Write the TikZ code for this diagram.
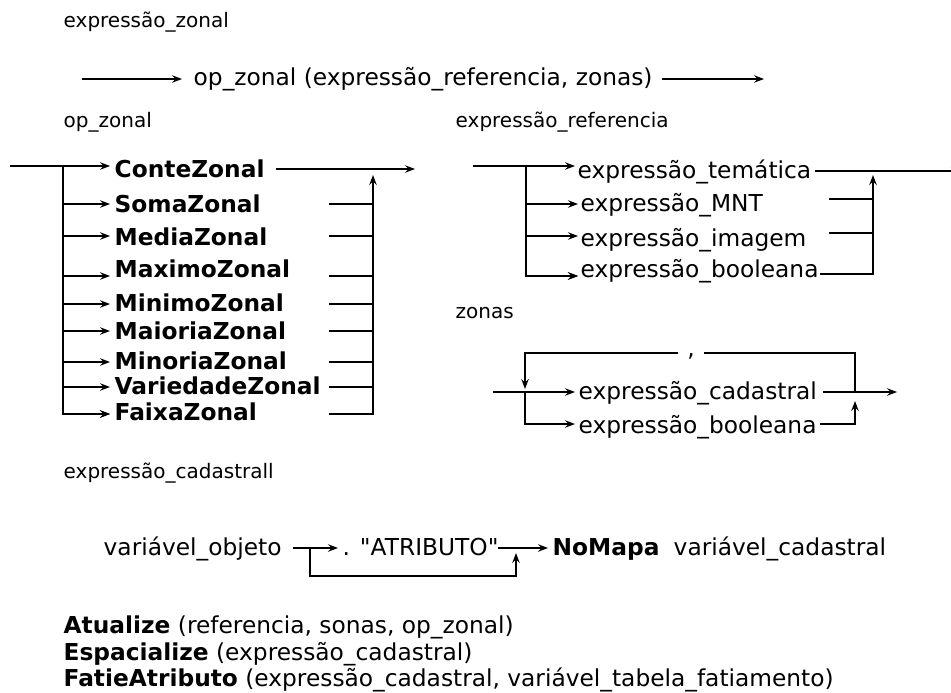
\documentclass[tikz,border=0pt]{standalone}
\usepackage{fontspec}
\setmainfont{DejaVu Sans}[Ligatures=TeXOff]
\usetikzlibrary{arrows.meta}
\newcommand{\fmain}{\fontsize{23.3}{27}\selectfont}
\newcommand{\flab}{\fontsize{20}{23}\selectfont}
\begin{document}
\begin{tikzpicture}[x=1pt,y=-1pt,
  line width=1.4pt,
  lbl/.style={inner sep=0pt,anchor=base west,font=\flab},
  txt/.style={inner sep=0pt,anchor=base west,font=\fmain},
  btxt/.style={inner sep=0pt,anchor=base west,font=\fmain\bfseries},
  arr/.style={-{Stealth[length=10pt,width=7.5pt,inset=3.5pt]}},
]
\useasboundingbox (0,0) rectangle (951,693);

% ---------- expressão_zonal
\node[lbl] (lz) at (63,28) {expressão\_zonal};
\coordinate (a0) at (82,79);
\coordinate (a1) at (182,79);
\node[txt] (opz) at (193,85) {op\_zonal (expressão\_referencia, zonas)};
\coordinate (a2) at (662,79);
\coordinate (a3) at (764,79);
\draw[arr] (a0) -- (a1);
\draw[arr] (a2) -- (a3);

% ---------- op_zonal
\node[lbl] (lop) at (63,128) {op\_zonal};
\coordinate (e0) at (10,166);
\coordinate (j0) at (63,166);
\coordinate (conte-in) at (110,166);
\node[btxt] (conte) at (114,177) {ConteZonal};
\coordinate (conte-out) at (276,169);
\coordinate (conte-end) at (415,169);
\coordinate (up0) at (373,175);
\draw (e0) -- (j0);
\draw[arr] (j0) -- (conte-in);
\draw[arr] (conte-out) -- (conte-end);
\foreach \n/\t/\ay/\ty in {soma/SomaZonal/204/212, media/MediaZonal/236/245,
  maximo/MaximoZonal/276/277, minimo/MinimoZonal/304/311,
  maioria/MaioriaZonal/331/339, minoria/MinoriaZonal/362/369,
  variedade/VariedadeZonal/387/394, faixa/FaixaZonal/414/420} {
  \node[btxt] (\n) at (114,\ty) {\t};
  \coordinate (\n-l) at (63,\ay);
  \coordinate (\n-in) at (110,\ay);
  \coordinate (\n-out) at (329,\ay);
  \coordinate (\n-r) at (373,\ay);
  \draw[arr] (\n-l) -- (\n-in);
  \draw (\n-out) -- (\n-r);
}
\draw[arr] (j0) -- (faixa-l) -- (faixa-in);
\draw[arr] (faixa-out) -- (faixa-r) -- (up0);

% ---------- expressão_referencia
\node[lbl] (lref) at (455,128) {expressão\_referencia};
\coordinate (r0) at (473,166);
\coordinate (rj) at (526,166);
\coordinate (tem-in) at (575,166);
\node[txt] (tem) at (577,178) {expressão\_temática};
\coordinate (tem-out) at (815,171);
\coordinate (tem-end) at (961,171);
\coordinate (rup) at (873,175);
\draw[arr] (r0) -- (rj) -- (tem-in);
\draw[arr] (tem-out) -- (tem-end);
\foreach \n/\t/\ay/\ty/\ry/\ox in {mnt/expressão\_MNT/204/211/199/829,
  img/expressão\_imagem/236/246/233/829,
  bool/expressão\_booleana/276/277/274/820} {
  \node[txt] (\n) at (580,\ty) {\t};
  \coordinate (\n-l) at (526,\ay);
  \coordinate (\n-in) at (578,\ay);
  \coordinate (\n-out) at (\ox,\ry);
  \coordinate (\n-r) at (873,\ry);
  \draw[arr] (\n-l) -- (\n-in);
  \draw (\n-out) -- (\n-r);
}
\draw[arr] (rj) -- (bool-l) -- (bool-in);
\draw[arr] (bool-out) -- (bool-r) -- (rup);

% ---------- zonas
\node[lbl] (lzon) at (455,318) {zonas};
\coordinate (z0) at (493,392);
\coordinate (zj) at (525,392);
\coordinate (cad-in) at (575,392);
\node[txt] (cad) at (578,399) {expressão\_cadastral};
\coordinate (cad-out) at (823,392);
\coordinate (zr) at (855,392);
\coordinate (cad-end) at (897,392);
\coordinate (ztl) at (525,353);
\coordinate (ztr) at (855,353);
\coordinate (zdown) at (525,389);
\node[txt,anchor=base,inner xsep=9pt] (comma) at (691,356) {,};
\coordinate (zbl) at (525,424);
\coordinate (zbin) at (575,424);
\node[txt] (zbool) at (578,433) {expressão\_booleana};
\coordinate (zbout) at (820,424);
\coordinate (zbr) at (855,424);
\coordinate (zup) at (855,401);
\draw[arr] (z0) -- (cad-in);
\draw[arr] (cad-out) -- (cad-end);
\draw (zr) -- (ztr) -- (comma.east |- ztr);
\draw[arr] (comma.west |- ztl) -- (ztl) -- (zdown);
\draw[arr] (zj) -- (zbl) -- (zbin);
\draw[arr] (zbout) -- (zbr) -- (zup);

% ---------- expressão_cadastrall
\node[lbl] (lcad) at (63,478) {expressão\_cadastrall};
\node[txt] (vobj) at (103,555) {variável\_objeto};
\coordinate (b0) at (293,548);
\coordinate (bj) at (310,548);
\coordinate (b1) at (338,548);
\node[txt] (atr) at (342,555) {. "ATRIBUTO"};
\coordinate (bl) at (310,576);
\coordinate (br) at (516,576);
\coordinate (bup) at (516,553);
\coordinate (b2) at (498,548);
\coordinate (b3) at (548,548);
\node[btxt] (nomapa) at (552,555) {NoMapa};
\node[txt] (vcad) at (673,555) {variável\_cadastral};
\draw[arr] (b0) -- (b1);
\draw[arr] (bj) -- (bl) -- (br) -- (bup);
\draw[arr] (b2) -- (b3);

% ---------- bottom lines
\node[txt] (atu) at (63,633) {\textbf{Atualize} (referencia, sonas, op\_zonal)};
\node[txt] (esp) at (63,660) {\textbf{Espacialize} (expressão\_cadastral)};
\node[txt] (fat) at (63,686.5) {\textbf{FatieAtributo} (expressão\_cadastral, variável\_tabela\_fatiamento)};
\end{tikzpicture}
\end{document}
